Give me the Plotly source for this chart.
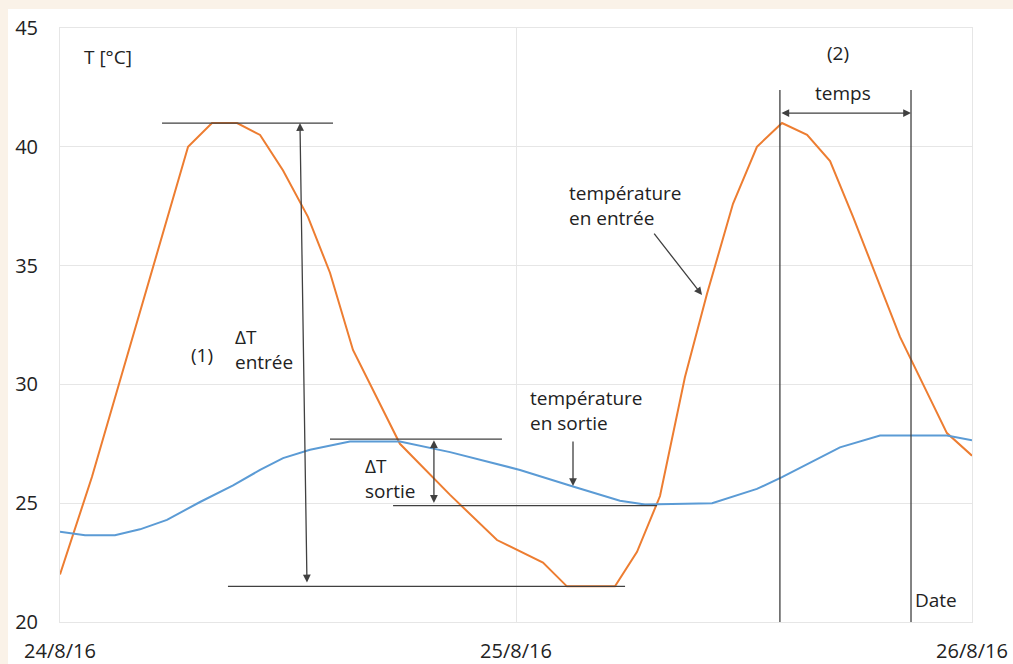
import pandas as pd
import plotly.graph_objects as go

# ---- data (hours since 24/8/16 00:00, temperature °C) ----
start = pd.Timestamp("2016-08-24 00:00")
hours_entree = [0, 1.68, 6.74, 8.0, 9.32, 10.53, 11.74, 13.05, 14.21, 15.42, 17.89,
                20.53, 23.0, 25.42, 26.68, 29.21, 30.37, 31.58, 32.89, 34.05, 35.42,
                36.68, 38.0, 39.32, 40.53, 41.74, 44.21, 46.68, 48.0]
temp_entree = [22.0, 26.1, 40.0, 41.0, 41.0, 40.5, 39.0, 37.05, 34.7, 31.45, 27.5,
               25.35, 23.45, 22.5, 21.5, 21.5, 22.95, 25.3, 30.3, 33.8, 37.6,
               40.0, 41.0, 40.5, 39.4, 37.05, 32.0, 27.95, 27.0]
hours_sortie = [0, 1.32, 2.89, 4.21, 5.63, 7.37, 9.11, 10.53, 11.74, 13.16, 15.26,
                17.89, 20.53, 24.21, 27.0, 29.47, 30.79, 34.32, 36.68, 38.0, 41.05,
                43.16, 46.68, 48.0]
temp_sortie = [23.8, 23.65, 23.65, 23.9, 24.3, 25.05, 25.75, 26.4, 26.9, 27.25, 27.6,
               27.6, 27.15, 26.4, 25.7, 25.1, 24.95, 25.0, 25.6, 26.1, 27.35,
               27.85, 27.85, 27.65]
tick_hours = [0, 24, 48]
tick_labels = ["24/8/16", "25/8/16", "26/8/16"]
y_ticks = [20, 25, 30, 35, 40, 45]


def t(h):
    return start + pd.Timedelta(hours=h)


ORANGE = "#ED7D31"
BLUE = "#5B9BD5"
INK = "#404040"
FONT = "Open Sans"
FS = 19

fig = go.Figure()
fig.add_trace(go.Scatter(x=[t(h) for h in hours_entree], y=temp_entree, mode="lines",
                         line=dict(color=ORANGE, width=2), name="température en entrée"))
fig.add_trace(go.Scatter(x=[t(h) for h in hours_sortie], y=temp_sortie, mode="lines",
                         line=dict(color=BLUE, width=2), name="température en sortie"))

shapes = []
# background frame (beige strips top and left)
BEIGE = "#FAF2E8"
shapes.append(dict(type="rect", xref="paper", yref="paper", x0=-0.07, x1=1.05,
                   y0=1.032, y1=1.06, fillcolor=BEIGE, line_width=0, layer="below"))
shapes.append(dict(type="rect", xref="paper", yref="paper", x0=-0.07, x1=-0.057,
                   y0=-0.08, y1=1.06, fillcolor=BEIGE, line_width=0, layer="below"))

# reference lines
hlines = [(41.0, 5.37, 14.37), (21.5, 8.84, 29.74), (27.7, 14.21, 23.26), (24.9, 17.53, 31.42)]
for yv, h0, h1 in hlines:
    shapes.append(dict(type="line", xref="x", yref="y", x0=t(h0), x1=t(h1), y0=yv, y1=yv,
                       line=dict(color=INK, width=1.3)))
for hv in [37.89, 44.79]:
    shapes.append(dict(type="line", xref="x", yref="y", x0=t(hv), x1=t(hv), y0=20, y1=42.39,
                       line=dict(color=INK, width=1.3)))

annotations = []


def arrow(h_from, y_from, h_to, y_to, both=False):
    annotations.append(dict(x=t(h_to), y=y_to, ax=t(h_from), ay=y_from, xref="x", yref="y",
                            axref="x", ayref="y", text="", showarrow=True, arrowhead=2,
                            arrowsize=1.2, arrowwidth=1.3, arrowcolor=INK,
                            arrowside="end+start" if both else "end",
                            standoff=0, startstandoff=0))


arrow(13.0, 21.6, 12.63, 41.0, both=True)
arrow(19.68, 24.95, 19.68, 27.65, both=True)
arrow(37.89, 41.42, 44.79, 41.42, both=True)
arrow(31.21, 36.41, 33.79, 33.76)
arrow(27.0, 27.66, 27.0, 25.72)


def label(h, yv, text, anchor="left"):
    annotations.append(dict(x=t(h), y=yv, xref="x", yref="y", text=text, showarrow=False,
                            xanchor=anchor, yanchor="middle", align="left",
                            font=dict(family=FONT, size=FS, color="#222222")))


label(1.16, 43.78, "T [°C]")
label(7.47, 31.24, "(1)", "center")
label(9.1, 31.45, "ΔT<br>entrée")
label(15.95, 26.04, "ΔT<br>sortie")
label(24.63, 28.9, "température<br>en sortie")
label(26.68, 37.55, "température<br>en entrée")
label(40.95, 43.95, "(2)", "center")
label(41.21, 42.26, "temps", "center")
label(44.89, 20.93, "Date")

fig.update_layout(
    width=1013, height=664,
    margin=dict(l=60, r=41, t=28, b=42),
    paper_bgcolor="white", plot_bgcolor="white",
    showlegend=False,
    shapes=shapes, annotations=annotations,
    font=dict(family=FONT, size=FS, color="#222222"),
    xaxis=dict(type="date", range=[t(0), t(48)], tickvals=[t(h) for h in tick_hours],
               ticktext=tick_labels, showgrid=True, gridcolor="#E6E6E6", gridwidth=1,
               showline=True, linecolor="#E6E6E6", mirror=True, zeroline=False,
               ticks="", ticklabelstandoff=11, automargin=False,
               tickfont=dict(family=FONT, size=20, color="#222222")),
    yaxis=dict(range=[20, 45], tickvals=y_ticks, showgrid=True, gridcolor="#E6E6E6",
               gridwidth=1, showline=True, linecolor="#E6E6E6", mirror=True,
               zeroline=False, ticks="", ticklabelstandoff=17, automargin=False,
               tickfont=dict(family=FONT, size=20, color="#222222")),
)

fig.write_html("out.html", config={"displayModeBar": False},
               post_script="document.body.style.margin='0';document.body.style.overflow='hidden';")
